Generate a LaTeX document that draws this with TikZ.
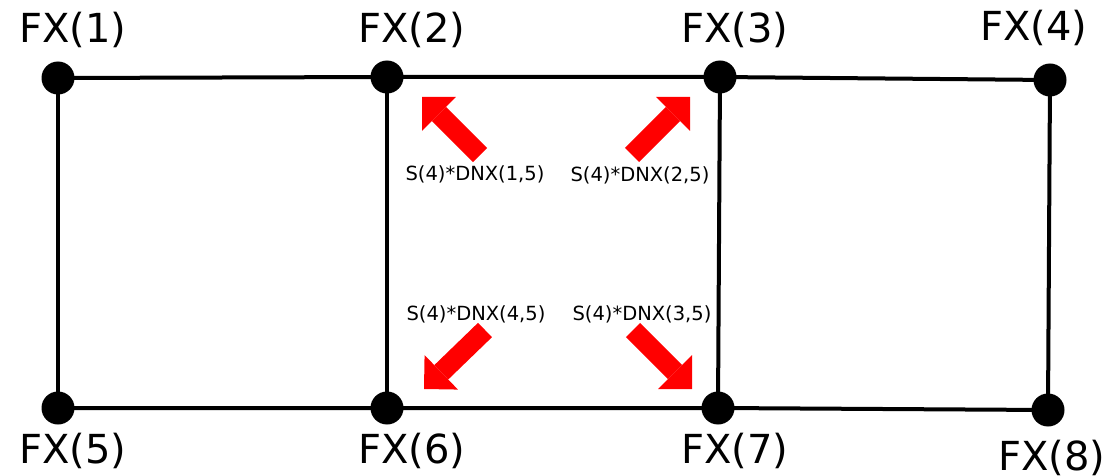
\documentclass[tikz,border=0pt]{standalone}
\usepackage{fontspec}
\setmainfont{DejaVu Sans}
\usetikzlibrary{arrows.meta}

\tikzset{
  fxdot/.style={circle,fill=black,inner sep=0pt,minimum size=33pt},
  fxlabel/.style={inner sep=0pt,font=\fontsize{40}{46}\selectfont},
  dnxlabel/.style={inner sep=0pt,font=\fontsize{19.5}{23}\selectfont},
  dnxarrow/.style={red,line width=20pt,-{Triangle[width=48pt,length=24pt,line width=0pt]}}
}

\begin{document}
\begin{tikzpicture}[x=1pt,y=-1pt,line width=4pt]
\path[use as bounding box] (0,0) rectangle (1117,476);
% grid points
\node[fxdot] (n1) at (58,78) {};
\node[fxdot] (n2) at (387,77) {};
\node[fxdot] (n3) at (720,77) {};
\node[fxdot] (n4) at (1050,80) {};
\node[fxdot] (n5) at (58,408) {};
\node[fxdot] (n6) at (387,408) {};
\node[fxdot] (n7) at (718,408) {};
\node[fxdot] (n8) at (1048,410) {};
% cell edges
\draw (n1.center) -- (n2.center) -- (n3.center) -- (n4.center);
\draw (n5.center) -- (n6.center) -- (n7.center) -- (n8.center);
\draw (n1.center) -- (n5.center);
\draw (n2.center) -- (n6.center);
\draw (n3.center) -- (n7.center);
\draw (n4.center) -- (n8.center);
% point labels
\node[fxlabel] (l1) at (73,30) {FX(1)};
\node[fxlabel] (l2) at (412,30) {FX(2)};
\node[fxlabel] (l3) at (735,30) {FX(3)};
\node[fxlabel] (l4) at (1034,28) {FX(4)};
\node[fxlabel] (l5) at (73,451) {FX(5)};
\node[fxlabel] (l6) at (412,451) {FX(6)};
\node[fxlabel] (l7) at (735,451) {FX(7)};
\node[fxlabel] (l8) at (1052,458) {FX(8)};
% flux arrows in the middle cell
\coordinate (t1) at (480,155); \coordinate (h1) at (422,97);
\coordinate (t2) at (632,155); \coordinate (h2) at (690,97);
\coordinate (t3) at (633,330); \coordinate (h3) at (692,389);
\coordinate (t4) at (485,330); \coordinate (h4) at (424,389);
\draw[dnxarrow] (t1) -- (h1);
\draw[dnxarrow] (t2) -- (h2);
\draw[dnxarrow] (t3) -- (h3);
\draw[dnxarrow] (t4) -- (h4);
\node[dnxlabel] (d1) at (475,174) {S(4)*DNX(1,5)};
\node[dnxlabel] (d2) at (640,175) {S(4)*DNX(2,5)};
\node[dnxlabel] (d3) at (642,314) {S(4)*DNX(3,5)};
\node[dnxlabel] (d4) at (476,314) {S(4)*DNX(4,5)};
\end{tikzpicture}
\end{document}
